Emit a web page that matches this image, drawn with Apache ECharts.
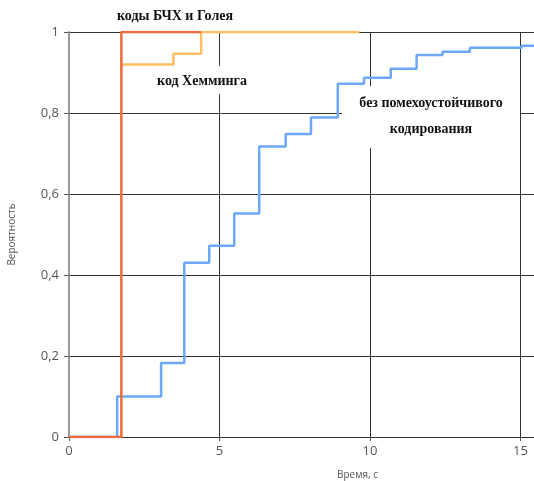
<!DOCTYPE html>
<html><head><meta charset="utf-8">
<script src="https://cdn.jsdelivr.net/npm/echarts@6/dist/echarts.min.js"></script>
<style>html,body{margin:0;padding:0;background:#fff}#c{width:534px;height:481px}</style>
</head><body><div id="c"></div>
<script>
// Data
const blueTimes  = [0, 1.6, 3.06, 3.83, 4.66, 5.49, 6.32, 7.2, 8.04, 8.93, 9.8, 10.69, 11.55, 12.41, 13.32, 15.04, 15.45];
const blueValues = [0, 0.1, 0.183, 0.43, 0.472, 0.552, 0.717, 0.748, 0.789, 0.872, 0.887, 0.909, 0.943, 0.951, 0.961, 0.966, 0.966];
const redTimes   = [0, 1.74, 4.39];
const redValues  = [0, 1, 1];
const orangeTimes  = [1.74, 3.47, 4.39, 9.65];
const orangeValues = [0.92, 0.946, 1, 1];
const xTicks = [0, 5, 10, 15];
const yTicks = [0, 0.2, 0.4, 0.6, 0.8, 1];
const labelTop = 'коды БЧХ и Голея';
const labelHamming = 'код Хемминга';
const labelNone = 'без помехоустойчивого\nкодирования';
const xName = 'Время, с';
const yName = 'Вероятность';

const zip = (a, b) => a.map((v, i) => [v, b[i]]);
const chart = echarts.init(document.getElementById('c'));
const serif = '"Liberation Serif", "DejaVu Serif", serif';
chart.setOption({
  animation: false,
  grid: { left: 69, top: 32, right: 0, bottom: 44, containLabel: false, outerBoundsMode: 'none' },
  xAxis: {
    type: 'value', min: 0, max: 15.45, interval: 5,
    axisLine: { show: true, onZero: false, lineStyle: { color: '#333', width: 1 } },
    axisTick: { show: true, length: 4, lineStyle: { color: '#555' } },
    axisLabel: { color: '#555', fontSize: 13, fontFamily: 'Open Sans, sans-serif', margin: 8,
      formatter: v => xTicks.includes(v) ? String(v) : '' },
    splitLine: { show: true, lineStyle: { color: '#333', width: 1 } },
    name: xName, nameLocation: 'middle', nameGap: 33,
    nameTextStyle: { color: '#555', fontSize: 10, fontFamily: 'Open Sans, sans-serif', padding: [0, 0, 0, 112] }
  },
  yAxis: {
    type: 'value', min: 0, max: 1, interval: 0.2,
    axisLine: { show: true, lineStyle: { color: '#999', width: 2 } },
    axisTick: { show: true, length: 5, lineStyle: { color: '#555' } },
    axisLabel: { color: '#555', fontSize: 13, fontFamily: 'Open Sans, sans-serif', margin: 10,
      formatter: v => yTicks.some(t => Math.abs(t - v) < 1e-9) ? String(+v.toFixed(1)).replace('.', ',') : '' },
    splitLine: { show: true, lineStyle: { color: '#333', width: 1 } },
    name: yName, nameLocation: 'middle', nameGap: 52, nameRotate: 90,
    nameTextStyle: { color: '#555', fontSize: 10, fontFamily: 'Open Sans, sans-serif' }
  },
  graphic: [
    { type: 'rect', z: 1, shape: { x: 148, y: 66, width: 108, height: 28 }, style: { fill: '#fff' } },
    { type: 'rect', z: 1, shape: { x: 342, y: 86, width: 178, height: 62 }, style: { fill: '#fff' } },
    { type: 'text', z: 5, x: 175, y: 16, style: { text: labelTop, font: 'bold 14px ' + serif, fill: '#111', align: 'center', verticalAlign: 'middle' } },
    { type: 'text', z: 5, x: 202, y: 81, style: { text: labelHamming, font: 'bold 14px ' + serif, fill: '#111', align: 'center', verticalAlign: 'middle' } },
    { type: 'text', z: 5, x: 431, y: 116, style: { text: labelNone, font: 'bold 14px ' + serif, fill: '#111', align: 'center', verticalAlign: 'middle', lineHeight: 26 } }
  ],
  series: [
    { type: 'line', step: 'end', data: zip(blueTimes, blueValues), symbol: 'none', z: 3,
      lineStyle: { color: '#6ba8f8', width: 2.5 } },
    { type: 'line', step: 'end', data: zip(orangeTimes, orangeValues), symbol: 'none', z: 4,
      lineStyle: { color: '#fdbf5f', width: 2.5 } },
    { type: 'line', step: 'end', data: zip(redTimes, redValues), symbol: 'none', z: 5,
      lineStyle: { color: '#ee6a3a', width: 2.5 } }
  ]
});
</script></body></html>
